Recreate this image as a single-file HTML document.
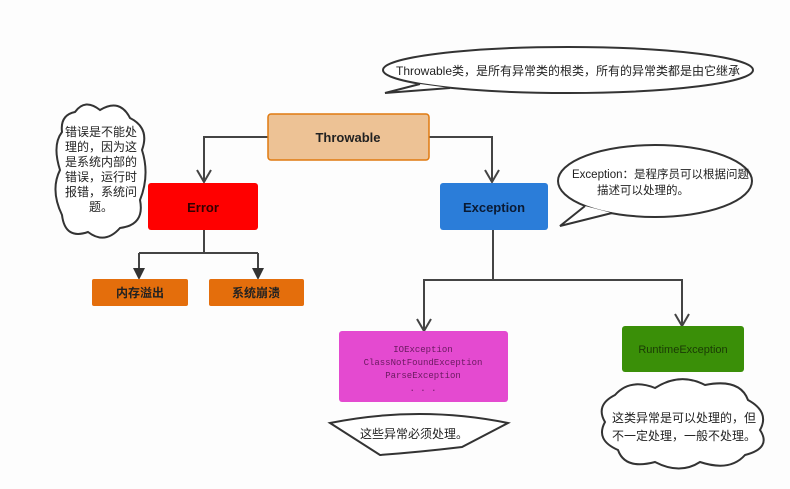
<!DOCTYPE html>
<html><head><meta charset="utf-8"><style>
body{margin:0;background:#fdfdfd;}
svg{display:block;font-family:"Liberation Sans","Noto Sans CJK SC",sans-serif;}
</style></head><body>
<svg width="790" height="489" viewBox="0 0 790 489">
<g fill="none" stroke="#444" stroke-width="2">
<path d="M268,137 H204 V182"/>
<path d="M429,137 H492 V182"/>
<path d="M197,170 L204,182 L211,170 M485,170 L492,182 L499,170 M417,319 L424,331 L431,319 M675,314 L682,326 L689,314"/>
<path d="M204,230 V253 M139,253 H258 M139,253 V270 M258,253 V270"/>
<path d="M493,230 V280 H424 V330"/>
<path d="M493,280 H682 V325"/>
</g>
<path d="M133,268 L139,280 L145,268Z M252,268 L258,280 L264,268Z" fill="#333"/>
<rect x="268" y="114" width="161" height="46" rx="3" fill="#edc295" stroke="#e07a10" stroke-width="1.5"/>
<text x="348" y="142" text-anchor="middle" font-size="13" font-weight="bold" fill="#222">Throwable</text>
<rect x="148" y="183" width="110" height="47" rx="3" fill="#ff0000"/>
<text x="203" y="212" text-anchor="middle" font-size="13" font-weight="bold" fill="#300">Error</text>
<rect x="440" y="183" width="108" height="47" rx="3" fill="#2b7dd9"/>
<text x="494" y="212" text-anchor="middle" font-size="13" font-weight="bold" fill="#0a1a33">Exception</text>
<rect x="92" y="279" width="96" height="27" rx="2" fill="#e46e0c"/>
<text x="140" y="297" text-anchor="middle" font-size="12" font-weight="bold" fill="#222">内存溢出</text>
<rect x="209" y="279" width="95" height="27" rx="2" fill="#e46e0c"/>
<text x="256" y="297" text-anchor="middle" font-size="12" font-weight="bold" fill="#222">系统崩溃</text>
<rect x="339" y="331" width="169" height="71" rx="3" fill="#e44ad0"/>
<g font-family="Liberation Mono,monospace" font-size="9" fill="#6a1a60" text-anchor="middle">
<text x="423" y="352">IOException</text><text x="423" y="365">ClassNotFoundException</text><text x="423" y="378">ParseException</text><text x="423" y="391">. . .</text></g>
<rect x="622" y="326" width="122" height="46" rx="3" fill="#3a8f08"/>
<text x="683" y="353" text-anchor="middle" font-size="11" fill="#1a3a05">RuntimeException</text>
<g fill="#fff" stroke="#333" stroke-width="2">
<ellipse cx="568" cy="70" rx="185" ry="23"/>
<path d="M420,84 L385,93 L450,88"/>
<ellipse cx="655" cy="181" rx="97" ry="36"/>
<path d="M585,206 L560,226 L612,213"/>
<path d="M330,423 Q420,405 508,423 L462,447 Q420,452 380,455 Z"/>
<path d="M75,112 Q85,98 100,110 Q120,98 130,118 Q150,128 142,150 Q150,175 140,200 Q145,225 120,228 Q105,245 88,232 Q65,240 62,215 Q50,190 60,170 Q52,145 62,132 Q60,115 75,112 Z"/>
<path d="M615,395 Q630,378 655,388 Q680,372 705,385 Q740,378 748,400 Q770,412 760,430 Q772,448 745,455 Q730,472 700,462 Q680,475 655,462 Q625,470 618,450 Q595,440 605,422 Q595,405 615,395 Z"/>
</g>
<g font-size="12" fill="#222">
<text x="568" y="75" text-anchor="middle">Throwable类，是所有异常类的根类，所有的异常类都是由它继承</text>
<text x="572" y="178" font-size="11.5">Exception：是程序员可以根据问题</text>
<text x="597" y="194" font-size="11.5">描述可以处理的。</text>
<text x="360" y="438">这些异常必须处理。</text>
<text x="612" y="422">这类异常是可以处理的，但</text>
<text x="612" y="440">不一定处理，一般不处理。</text>
</g>
<g font-size="12" fill="#222" text-anchor="middle">
<text x="101" y="136">错误是不能处</text><text x="101" y="151">理的，因为这</text><text x="101" y="166">是系统内部的</text><text x="101" y="181">错误，运行时</text><text x="101" y="196">报错，系统问</text><text x="101" y="211">题。</text>
</g>
</svg>
</body></html>
